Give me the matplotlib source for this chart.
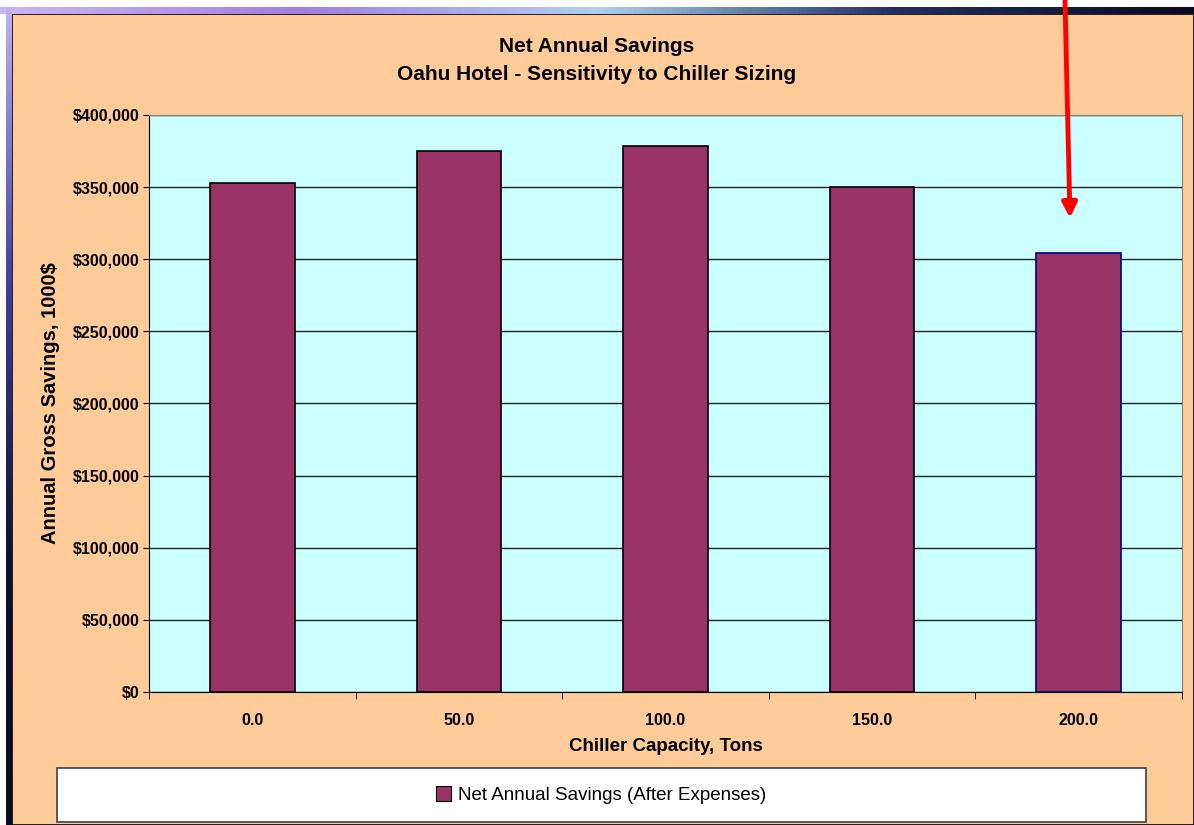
"""
Net Annual Savings - Oahu Hotel chiller sizing bar chart
"""
import matplotlib.pyplot as plt
import numpy as np
from matplotlib.patches import Rectangle
from matplotlib.colors import LinearSegmentedColormap
from matplotlib.ticker import FuncFormatter

plt.rcParams['font.family'] = ['Liberation Sans', 'DejaVu Sans']

#       ----数据-----
capacity = ['0.0', '50.0', '100.0', '150.0', '200.0']
savings = [352800, 375000, 378500, 350000, 304300]
series_name = 'Net Annual Savings (After Expenses)'
title_lines = ['Net Annual Savings', 'Oahu Hotel - Sensitivity to Chiller Sizing']

W, H = 1194, 825
fig = plt.figure(figsize=(W / 100, H / 100), dpi=100)
fig.patch.set_facecolor('white')

# frame: dark strips on top and left, peach panel inside
grad = np.linspace(0, 1, 256).reshape(1, -1)
top = fig.add_axes([0, 1 - 14 / H, 1, 7 / H])
top.imshow(grad, aspect='auto', cmap=LinearSegmentedColormap.from_list(
    'g', ['#c8b8f0', '#a080e0', '#b0d0f0', '#203060', '#0a0a20']))
top.axis('off')
left = fig.add_axes([6 / W, 0, 6 / W, 1 - 7 / H])
left.imshow(grad.T, aspect='auto', cmap=LinearSegmentedColormap.from_list(
    'g2', ['#c0b0f0', '#4040a0', '#101030', '#0a0a20']))
left.axis('off')
fig.patches.append(Rectangle((12 / W, 0), 1 - 12 / W, 1 - 14 / H, transform=fig.transFigure,
                             facecolor='#FFCC99', edgecolor='black', lw=1.2, zorder=-1))

#       ----画图-----
ax = fig.add_axes([149 / W, 1 - 692 / H, (1182 - 149) / W, (692 - 115) / H])
ax.set_zorder(2)
ax.set_facecolor('#CCFFFF')
x = np.arange(len(capacity))
edges = ['black'] * (len(capacity) - 1) + ['#000080']
ax.bar(x, savings, width=0.41, color='#993366', edgecolor=edges, linewidth=1.2, zorder=3)

ax.set_xlim(-0.5, len(capacity) - 0.5)
ax.set_ylim(0, 400000)
ax.set_yticks(np.arange(0, 400001, 50000))
ax.yaxis.set_major_formatter(FuncFormatter(lambda v, p: '${:,.0f}'.format(v)))
ax.grid(axis='y', color='#222222', lw=1, zorder=1)
ax.set_axisbelow(True)
ax.set_xticks(x)
ax.set_xticklabels(capacity, fontweight='bold', fontsize=11.5)
ax.set_xticks(np.arange(-0.5, len(capacity), 1), minor=True)
ax.tick_params(axis='x', which='major', length=0, pad=15)
ax.tick_params(axis='x', which='minor', length=5, direction='out')
ax.tick_params(axis='y', length=4, direction='out', labelsize=11.5, pad=3)
for t in ax.get_yticklabels():
    t.set_fontweight('bold')
for s in ax.spines.values():
    s.set_color('#808080')
ax.spines['left'].set_color('black')
ax.spines['bottom'].set_color('black')

ax.set_xlabel('Chiller Capacity, Tons', fontweight='bold', fontsize=13.5, labelpad=7)
ax.set_ylabel('Annual Gross Savings, 1000$', fontweight='bold', fontsize=14.5, labelpad=9)
fig.text(0.5, 1 - 46 / H, title_lines[0], ha='center', va='center', fontweight='bold', fontsize=15)
fig.text(0.5, 1 - 74 / H, title_lines[1], ha='center', va='center', fontweight='bold', fontsize=15)

# legend box
fig.patches.append(Rectangle((57 / W, 1 - 822 / H), (1146 - 57) / W, 54 / H, transform=fig.transFigure,
                             facecolor='white', edgecolor='#404040', lw=1.2, zorder=2))
h = Rectangle((0, 0), 1, 1, facecolor='#993366', edgecolor='black', lw=0.8)
leg = fig.legend([h], [series_name], loc='center', bbox_to_anchor=(601 / W, 1 - 795 / H),
                 frameon=False, fontsize=13.5, handlelength=0.8, handleheight=0.8, handletextpad=0.4)

# red arrow
ax.annotate('', xy=(1070 / W, 1 - 218 / H), xytext=(1065 / W, 1.0),
            xycoords='figure fraction', textcoords='figure fraction',
            arrowprops=dict(arrowstyle='-|>', color='red', lw=3.5, mutation_scale=22, shrinkA=0, shrinkB=0))

fig.savefig('out.png', dpi=100)
